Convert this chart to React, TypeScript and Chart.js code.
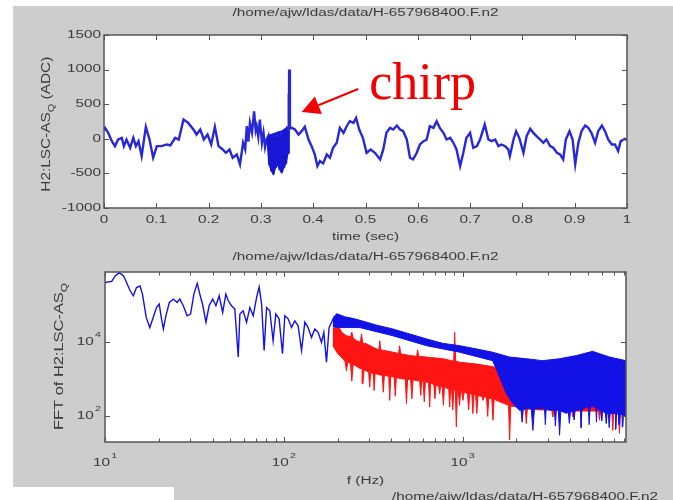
import React, { useEffect, useRef } from 'react';
import { Chart, registerables } from 'chart.js';

Chart.register(...registerables);

const SANS = '"Liberation Sans", Arial, Helvetica, sans-serif';
const SERIF = '"Liberation Serif", "Times New Roman", serif';
const TEXT_COLOR = '#3a3a3a';
const FRAME_COLOR = '#555555';
const FIGURE_GRAY = '#cdcdcd';
const STRETCH = 1.53;
const TRACE_BLUE = 'rgba(22,22,212,0.92)';
const FFT_BLUE = '#1212e6';
const FFT_RED = '#ff1414';
const NOTE_RED = '#f00000';

const plotTitle = '/home/ajw/ldas/data/H-657968400.F.n2';
const timeAxisTitle = 'time (sec)';
const freqAxisTitle = 'f (Hz)';
const adcAxisTitle = [{ text: 'H2:LSC-AS' }, { text: 'Q', sub: true }, { text: ' (ADC)' }];
const fftAxisTitle = [{ text: 'FFT of H2:LSC-AS' }, { text: 'Q', sub: true }];

// ---- top panel: time series ----
const timeSec = [
  0, 0.002, 0.008, 0.015, 0.021, 0.027, 0.034, 0.038, 0.043, 0.050,
  0.056, 0.061, 0.066, 0.072, 0.080, 0.087, 0.094, 0.101, 0.110, 0.120,
  0.127, 0.136, 0.143, 0.152, 0.161, 0.171, 0.177, 0.184, 0.191, 0.198,
  0.205, 0.212, 0.219, 0.227, 0.233, 0.240, 0.246, 0.254, 0.260, 0.266,
  0.270, 0.273, 0.276, 0.279, 0.283, 0.287, 0.290, 0.292, 0.295, 0.298,
  0.302, 0.305, 0.308, 0.311, 0.314, 0.316, 0.318, 0.320, 0.322, 0.324,
  0.326, 0.328, 0.330, 0.332, 0.334, 0.336, 0.338, 0.340, 0.342, 0.344,
  0.346, 0.348, 0.350, 0.352, 0.353, 0.3535, 0.354, 0.3555, 0.359, 0.365,
  0.372, 0.378, 0.384, 0.391, 0.397, 0.403, 0.408, 0.413, 0.419, 0.426,
  0.432, 0.438, 0.445, 0.451, 0.458, 0.464, 0.470, 0.477, 0.482, 0.488,
  0.495, 0.502, 0.510, 0.518, 0.528, 0.534, 0.540, 0.547, 0.553, 0.560,
  0.566, 0.572, 0.579, 0.585, 0.591, 0.598, 0.604, 0.611, 0.617, 0.623,
  0.630, 0.636, 0.642, 0.649, 0.655, 0.662, 0.668, 0.674, 0.681, 0.687,
  0.693, 0.700, 0.706, 0.713, 0.719, 0.728, 0.735, 0.741, 0.748, 0.754,
  0.760, 0.767, 0.773, 0.776, 0.783, 0.788, 0.794, 0.802, 0.808, 0.815,
  0.821, 0.827, 0.834, 0.840, 0.846, 0.853, 0.859, 0.866, 0.872, 0.878,
  0.883, 0.890, 0.896, 0.901, 0.907, 0.913, 0.920, 0.926, 0.932, 0.939,
  0.945, 0.952, 0.958, 0.964, 0.971, 0.977, 0.983, 0.988, 0.996, 1.000,
];
const adcValue = [
  120, 158, 86, -34, -106, -10, 14, -106, -10, -130,
  14, -106, -34, -250, 173, -10, -274, -106, -106, -82,
  -96, 14, -10, 278, 230, 134, 62, 134, -10, 62,
  -82, 173, -106, -154, -202, -154, -274, -226, -370, -58,
  -150, 182, -40, 230, 90, 398, 120, 182, 30, 278,
  -60, 86, -120, -10, 40, -380, 60, -470, 20, -514,
  80, -420, 30, -380, 100, -450, 40, -490, 120, -420,
  150, -360, 180, -200, 650, 0, 1000, 150, 158, 134,
  62, 110, 173, -10, -106, -226, -394, -322, -355, -226,
  -274, -130, -58, 158, 86, 182, 254, 230, 302, 134,
  14, -202, -154, -202, -298, -154, 86, 158, 134, 192,
  134, 110, -10, -274, -298, -202, -82, -34, -10, 182,
  158, 254, 158, 86, -10, 14, -58, -154, -394, -202,
  14, 86, -130, -106, -10, 206, -10, -34, -10, -106,
  -82, -106, -154, -250, -10, 110, 14, -202, 38, 144,
  86, 38, -10, -58, -10, -106, -130, -202, -226, -298,
  -10, 110, -10, -370, -58, 110, 192, 158, 86, -58,
  110, 192, 110, -10, -82, -82, -178, -34, 0, -20,
];
// envelope of the dense oscillation just before the chirp spike
const burstTopSec = [0.312, 0.318, 0.326, 0.334, 0.342, 0.348, 0.352];
const burstTopADC = [0, 60, 80, 100, 120, 150, 100];
const burstBotSec = [0.312, 0.316, 0.320, 0.324, 0.328, 0.332, 0.336, 0.340, 0.344, 0.348, 0.352];
const burstBotADC = [-50, -380, -470, -514, -420, -380, -450, -490, -420, -360, -200];

const timeTicks = [0, 0.1, 0.2, 0.3, 0.4, 0.5, 0.6, 0.7, 0.8, 0.9, 1];
const timeTickLabels = ['0', '0.1', '0.2', '0.3', '0.4', '0.5', '0.6', '0.7', '0.8', '0.9', '1'];
const adcTicks = [-1000, -500, 0, 500, 1000, 1500];
const adcTickLabels = ['-1000', '-500', '0', '500', '1000', '1500'];

// annotation (data coordinates of the top panel)
const chirpText = 'chirp';
const chirpAnchor = { t: 0.507, v: 575 };
const arrowTail = { t: 0.486, v: 720 };
const arrowTip = { t: 0.378, v: 387 };

// ---- bottom panel: spectrum ----
const blueLowHz = [
  10, 10.9, 11.4, 12.0, 12.7, 13.2, 13.8, 14.4, 15.0, 15.7,
  16.2, 17.0, 17.8, 18.6, 19.4, 20.1, 20.7, 21.2, 21.9, 22.9,
  24.1, 25.3, 26.2, 27.4, 28.8, 30.1, 31.4, 32.8, 33.9, 35.1,
  36.7, 38.2, 40.0, 41.7, 43.5, 45.5, 47.4, 48.9, 51.0, 53.2,
  55.6, 56.8, 59.2, 61.9, 64.6, 67.4, 70.4, 72.8, 75.1, 77.6,
  80.1, 83.5, 87.1, 90.2, 94.1, 98.3, 101.3, 105.7, 110.4, 115.2,
  120.2, 125.6, 131.1, 136.7, 142.8, 149.0, 155.5, 162.4, 167.3, 173.2,
  179.1, 188.6, 198.6,
];
const blueLowAmp = [
  4.1e5, 4.4e5, 6.2e5, 7.6e5, 6.2e5, 4.1e5, 2.5e5, 1.8e5, 3.0e5, 3.3e5,
  2.0e5, 4.7e4, 2.5e4, 4.7e4, 8.7e4, 1.08e5, 4.3e4, 2.3e4, 5.2e4, 1.19e5,
  1.47e5, 1.19e5, 1.47e5, 9.7e4, 5.2e4, 5.8e4, 2.0e5, 3.9e5, 2.0e5, 1.08e5,
  3.5e4, 9.7e4, 1.47e5, 9.7e4, 1.8e5, 6.4e4, 2.0e5, 1.32e5, 9.7e4, 7.9e4,
  4.0e3, 5.8e4, 7.1e4, 3.5e4, 8.7e4, 5.2e4, 1.6e5, 3.1e5, 1.08e5, 6.0e3,
  8.7e4, 7.1e4, 1.1e4, 5.8e4, 4.3e4, 4.9e3, 5.2e4, 4.3e4, 2.5e4, 3.8e4,
  2.8e4, 6.0e3, 3.5e4, 2.5e4, 1.36e4, 2.3e4, 1.86e4, 1.0e4, 1.86e4, 2.9e3,
  2.5e4, 4.3e4, 5.8e4,
];
const blueBandTopHz = [188, 198, 219, 249, 284, 331, 406, 506, 629, 773, 963, 1198, 1471, 1831, 2278, 2798, 3482, 4334, 5324, 6626, 8192];
const blueBandTopAmp = [4.6e4, 5.9e4, 4.9e4, 4.3e4, 3.6e4, 2.9e4, 2.3e4, 1.68e4, 1.23e4, 9.4e3, 8.1e3, 6.6e3, 5.4e3, 4.0e3, 3.6e3, 3.2e3, 3.6e3, 4.4e3, 5.7e3, 4.0e3, 3.2e3];
const blueBandBotHz = [
  188, 205, 266, 406, 629, 963, 1471, 1609, 1754, 1910,
  2082, 2120, 2150, 2180, 2269, 2420, 2470, 2520, 2693, 2870,
  2900, 2930, 3062, 3260, 3300, 3340, 3430, 3482, 3540, 3795,
  3900, 3950, 4000, 4150, 4200, 4250, 4317, 4560, 4600, 4640,
  4911, 5040, 5100, 5160, 5346, 5560, 5600, 5640, 5826, 5930,
  6000, 6070, 6280, 6351, 6420, 6520, 6600, 6680, 6914, 7150,
  7200, 7250, 7420, 7500, 7580, 7800, 7864, 7930, 8192,
];
const blueBandBotAmp = [
  2.6e4, 2.5e4, 2.5e4, 1.51e4, 8.1e3, 5.4e3, 3.2e3, 1.15e3, 410, 221,
  146, 150, 70, 150, 162, 160, 42, 160, 162, 160,
  60, 160, 146, 150, 55, 150, 146, 31, 140, 121,
  130, 65, 130, 140, 80, 140, 146, 150, 50, 150,
  179, 180, 60, 180, 185, 170, 70, 170, 146, 140,
  75, 140, 120, 64, 120, 120, 50, 120, 121, 120,
  45, 120, 115, 60, 115, 110, 52, 110, 96,
];
const redTopHz = [
  188, 195, 201, 212, 224, 236, 240, 244, 255, 268,
  272, 276, 290, 330, 340, 344, 348, 408, 438, 444,
  450, 506, 553, 560, 567, 627, 776, 891, 902, 914,
  963, 1193, 1477, 1800, 2500, 4000, 8192,
];
const redTopAmp = [
  2.3e4, 2.6e4, 2.8e4, 1.8e4, 1.51e4, 1.4e4, 1.9e4, 1.3e4, 1.11e4, 1.0e4,
  1.68e4, 9.6e3, 9.1e3, 6.6e3, 6.4e3, 1.1e4, 6.3e3, 5.4e3, 5.0e3, 8.1e3,
  4.9e3, 4.4e3, 4.2e3, 6.3e3, 4.2e3, 4.0e3, 3.6e3, 3.1e3, 1.86e4, 3.1e3,
  2.9e3, 2.6e3, 2.2e3, 1.5e3, 1.2e3, 1.1e3, 1.0e3,
];
const redBotHz = [
  188, 200, 215, 220, 224, 228, 236, 240, 244, 250,
  265, 274, 277, 281, 298, 302, 306, 316, 320, 324,
  330, 350, 355, 360, 365, 386, 391, 396, 414, 420,
  426, 430, 478, 485, 492, 512, 520, 528, 540, 575,
  583, 590, 601, 610, 619, 645, 654, 662, 690, 700,
  710, 735, 744, 752, 769, 780, 791, 800, 836, 846,
  856, 867, 880, 893, 910, 922, 934, 946, 960, 974,
  990, 1004, 1018, 1064, 1080, 1096, 1125, 1141, 1157, 1182,
  1200, 1218, 1280, 1299, 1318, 1360, 1380, 1400, 1455, 1477,
  1500, 1609, 1805, 1831, 1857, 2000, 2240, 2269, 2300, 2700,
  3150, 3195, 3240, 3634, 4080, 4133, 4190, 5000, 5750, 5826,
  5900, 6820, 6914, 7000, 7430, 7534, 7640, 8192,
];
const redBotAmp = [
  8.1e3, 5.0e3, 3.5e3, 3.0e3, 1.7e3, 3.0e3, 2.6e3, 900, 2.5e3, 2.4e3,
  2.0e3, 1.9e3, 762, 1.8e3, 1.6e3, 617, 1.5e3, 1.45e3, 500, 1.45e3,
  1.4e3, 1.3e3, 1.3e3, 450, 1.3e3, 1.2e3, 271, 1.2e3, 1.15e3, 350,
  1.15e3, 1.1e3, 1.0e3, 221, 1.0e3, 980, 300, 970, 950, 900,
  369, 900, 880, 250, 870, 800, 179, 800, 720, 300,
  700, 650, 410, 640, 620, 200, 610, 600, 560, 179,
  550, 530, 150, 520, 500, 52, 490, 470, 200, 460,
  450, 271, 440, 420, 150, 410, 400, 119, 390, 370,
  120, 360, 350, 271, 340, 320, 100, 310, 300, 79,
  290, 250, 200, 23, 190, 180, 160, 64, 160, 150,
  150, 96, 150, 146, 140, 96, 140, 140, 140, 79,
  140, 140, 42, 140, 140, 35, 140, 110,
];
const freqMajorTicks = [10, 100, 1000];
const freqTickExp = ['1', '2', '3'];
const freqMinorTicks = [20, 30, 40, 50, 60, 70, 80, 90, 200, 300, 400, 500, 600, 700, 800, 900, 2000, 3000, 4000, 5000, 6000, 7000, 8000];
const ampTicks = [100, 10000];
const ampTickExp = ['2', '4'];

// ---- helpers ----
function band(topX, topY, botX, botY) {
  const upper = topX.map((x, i) => ({ x, y: topY[i] }));
  const lower = botX.map((x, i) => ({ x, y: botY[i] })).reverse();
  return upper.concat(lower);
}

function stretchedText(ctx, text, x, y, align, size = 10, sx = STRETCH) {
  ctx.save();
  ctx.font = `${size}px ${SANS}`;
  ctx.fillStyle = TEXT_COLOR;
  ctx.textBaseline = 'middle';
  ctx.textAlign = 'left';
  const w = ctx.measureText(text).width * sx;
  const left = align === 'left' ? x : align === 'center' ? x - w / 2 : x - w;
  ctx.translate(left, y);
  ctx.scale(sx, 1);
  ctx.fillText(text, 0, 0);
  ctx.restore();
}

function powerText(ctx, mant, exp, x, y, align) {
  ctx.save();
  ctx.font = `10px ${SANS}`;
  const wb = ctx.measureText(mant).width;
  ctx.font = `7px ${SANS}`;
  const we = ctx.measureText(exp).width;
  const gap = 0.8;
  const total = (wb + gap + we) * STRETCH;
  const left = align === 'center' ? x - total / 2 : x - total;
  ctx.translate(left, y);
  ctx.scale(STRETCH, 1);
  ctx.fillStyle = TEXT_COLOR;
  ctx.textBaseline = 'middle';
  ctx.textAlign = 'left';
  ctx.font = `10px ${SANS}`;
  ctx.fillText(mant, 0, 0);
  ctx.font = `7px ${SANS}`;
  ctx.fillText(exp, wb + gap, -7);
  ctx.restore();
}

function rotatedTitle(ctx, parts, cx, cy, length, size) {
  ctx.save();
  const sub = size * 0.72;
  const widths = parts.map((p) => {
    ctx.font = `${p.sub ? sub : size}px ${SANS}`;
    return ctx.measureText(p.text).width;
  });
  const total = widths.reduce((s, w) => s + w, 0);
  ctx.translate(cx, cy);
  ctx.rotate(-Math.PI / 2);
  ctx.scale(length / total, 1);
  ctx.fillStyle = TEXT_COLOR;
  ctx.textBaseline = 'middle';
  ctx.textAlign = 'left';
  let x = -total / 2;
  parts.forEach((p, i) => {
    ctx.font = `${p.sub ? sub : size}px ${SANS}`;
    ctx.fillText(p.text, x, p.sub ? size * 0.4 : 0);
    x += widths[i];
  });
  ctx.restore();
}

function drawFrame(ctx, a, xs, ys, xMajor, xMinor, yMajor) {
  ctx.save();
  ctx.strokeStyle = FRAME_COLOR;
  ctx.lineWidth = 1;
  ctx.beginPath();
  const big = 5;
  const small = 3.5;
  const xt = (v, len) => {
    const px = Math.round(xs.getPixelForValue(v)) + 0.5;
    ctx.moveTo(px, a.bottom);
    ctx.lineTo(px, a.bottom - len);
    ctx.moveTo(px, a.top);
    ctx.lineTo(px, a.top + len);
  };
  xMajor.forEach((v) => xt(v, big));
  xMinor.forEach((v) => xt(v, small));
  yMajor.forEach((v) => {
    const py = Math.round(ys.getPixelForValue(v)) + 0.5;
    ctx.moveTo(a.left, py);
    ctx.lineTo(a.left + big, py);
    ctx.moveTo(a.right, py);
    ctx.lineTo(a.right - big, py);
  });
  ctx.stroke();
  ctx.lineWidth = 1.5;
  ctx.strokeRect(a.left, a.top, a.right - a.left, a.bottom - a.top);
  ctx.restore();
}

function whiteArea(chart) {
  const { ctx, chartArea: a } = chart;
  ctx.save();
  ctx.fillStyle = '#ffffff';
  ctx.fillRect(a.left, a.top, a.right - a.left, a.bottom - a.top);
  ctx.restore();
}

const timeDecor = {
  id: 'timeDecor',
  beforeDraw: whiteArea,
  afterDraw(chart) {
    const { ctx, chartArea: a, scales } = chart;
    const xs = scales.x;
    const ys = scales.y;
    drawFrame(ctx, a, xs, ys, timeTicks, [], adcTicks);
    timeTicks.forEach((v, i) => stretchedText(ctx, timeTickLabels[i], xs.getPixelForValue(v), a.bottom + 12.5, 'center'));
    adcTicks.forEach((v, i) => stretchedText(ctx, adcTickLabels[i], a.left - 3, ys.getPixelForValue(v), 'right'));
    stretchedText(ctx, plotTitle, (a.left + a.right) / 2, a.top - 22, 'center');
    stretchedText(ctx, timeAxisTitle, (a.left + a.right) / 2, a.bottom + 29, 'center');
    rotatedTitle(ctx, adcAxisTitle, 46, (a.top + a.bottom) / 2 + 2.7, 135, 13);

    // "chirp" annotation with arrow
    const x1 = xs.getPixelForValue(arrowTail.t);
    const y1 = ys.getPixelForValue(arrowTail.v);
    const x2 = xs.getPixelForValue(arrowTip.t);
    const y2 = ys.getPixelForValue(arrowTip.v);
    const ang = Math.atan2(y2 - y1, x2 - x1);
    const headLen = 18;
    const headHalf = 9.5;
    const bx = x2 - headLen * Math.cos(ang);
    const by = y2 - headLen * Math.sin(ang);
    ctx.save();
    ctx.strokeStyle = NOTE_RED;
    ctx.fillStyle = NOTE_RED;
    ctx.lineWidth = 2;
    ctx.beginPath();
    ctx.moveTo(x1, y1);
    ctx.lineTo(bx, by);
    ctx.stroke();
    ctx.beginPath();
    ctx.moveTo(x2, y2);
    ctx.lineTo(bx + headHalf * Math.sin(ang), by - headHalf * Math.cos(ang));
    ctx.lineTo(bx - headHalf * Math.sin(ang), by + headHalf * Math.cos(ang));
    ctx.closePath();
    ctx.fill();
    ctx.font = `52px ${SERIF}`;
    ctx.textBaseline = 'alphabetic';
    ctx.textAlign = 'left';
    ctx.fillText(chirpText, xs.getPixelForValue(chirpAnchor.t), ys.getPixelForValue(chirpAnchor.v));
    ctx.restore();
  },
};

const fftDecor = {
  id: 'fftDecor',
  beforeDraw: whiteArea,
  afterDraw(chart) {
    const { ctx, chartArea: a, scales } = chart;
    const xs = scales.x;
    const ys = scales.y;
    drawFrame(ctx, a, xs, ys, freqMajorTicks, freqMinorTicks, ampTicks);
    freqMajorTicks.forEach((f, i) => powerText(ctx, '10', freqTickExp[i], xs.getPixelForValue(f), a.bottom + 21, 'center'));
    ampTicks.forEach((v, i) => powerText(ctx, '10', ampTickExp[i], a.left - 4, ys.getPixelForValue(v), 'right'));
    stretchedText(ctx, plotTitle, (a.left + a.right) / 2, a.top - 15, 'center');
    stretchedText(ctx, freqAxisTitle, (a.left + a.right) / 2, a.bottom + 39, 'center');
    rotatedTitle(ctx, fftAxisTitle, 59, (a.top + a.bottom) / 2 - 0.5, 147, 13);
    // title of the next (cut-off) panel
    stretchedText(ctx, plotTitle, 525, 247, 'center');
  },
};

const hiddenScale = {
  grid: { display: false },
  border: { display: false },
  ticks: { display: false },
};

export default function App() {
  const topRef = useRef(null);
  const botRef = useRef(null);

  useEffect(() => {
    const top = new Chart(topRef.current, {
      type: 'line',
      data: {
        datasets: [
          {
            label: 'H2:LSC-AS_Q',
            data: timeSec.map((t, i) => ({ x: t, y: adcValue[i] })),
            borderColor: TRACE_BLUE,
            borderWidth: 2.4,
            pointRadius: 0,
            fill: false,
            tension: 0,
            clip: 0,
            order: 0,
          },
          {
            label: 'burst envelope',
            data: band(burstTopSec, burstTopADC, burstBotSec, burstBotADC),
            borderColor: TRACE_BLUE,
            backgroundColor: TRACE_BLUE,
            borderWidth: 1.2,
            pointRadius: 0,
            fill: 'shape',
            tension: 0,
            clip: 0,
            order: 1,
          },
        ],
      },
      options: {
        animation: false,
        responsive: false,
        devicePixelRatio: 1,
        events: [],
        layout: { padding: { left: 0, right: 46, top: 35, bottom: 0 } },
        plugins: { legend: { display: false }, tooltip: { enabled: false }, title: { display: false } },
        scales: {
          x: { type: 'linear', min: 0, max: 1, ...hiddenScale, afterFit: (s) => { s.height = 42; } },
          y: { type: 'linear', min: -1000, max: 1500, ...hiddenScale, afterFit: (s) => { s.width = 104; } },
        },
      },
      plugins: [timeDecor],
    });

    const bot = new Chart(botRef.current, {
      type: 'line',
      data: {
        datasets: [
          {
            label: 'FFT raw (low f)',
            data: blueLowHz.map((f, i) => ({ x: f, y: blueLowAmp[i] })),
            borderColor: FFT_BLUE,
            borderWidth: 1.4,
            pointRadius: 0,
            fill: false,
            tension: 0,
            clip: 0,
            order: 0,
          },
          {
            label: 'FFT raw',
            data: band(blueBandTopHz, blueBandTopAmp, blueBandBotHz, blueBandBotAmp),
            borderColor: FFT_BLUE,
            backgroundColor: FFT_BLUE,
            borderWidth: 1,
            pointRadius: 0,
            fill: 'shape',
            tension: 0,
            clip: 0,
            order: 1,
          },
          {
            label: 'FFT filtered',
            data: band(redTopHz, redTopAmp, redBotHz, redBotAmp),
            borderColor: FFT_RED,
            backgroundColor: FFT_RED,
            borderWidth: 1,
            pointRadius: 0,
            fill: 'shape',
            tension: 0,
            clip: 0,
            order: 2,
          },
        ],
      },
      options: {
        animation: false,
        responsive: false,
        devicePixelRatio: 1,
        events: [],
        layout: { padding: { left: 0, right: 47, top: 22, bottom: 0 } },
        plugins: { legend: { display: false }, tooltip: { enabled: false }, title: { display: false } },
        scales: {
          x: { type: 'logarithmic', min: 10, max: 8192, ...hiddenScale, afterFit: (s) => { s.height = 58; } },
          y: { type: 'logarithmic', min: 20.4, max: 7.9e5, ...hiddenScale, afterFit: (s) => { s.width = 105; } },
        },
      },
      plugins: [fftDecor],
    });

    return () => {
      top.destroy();
      bot.destroy();
    };
  }, []);

  return (
    <div style={{ position: 'absolute', left: 0, top: 0, width: 673, height: 500, background: '#ffffff', overflow: 'hidden' }}>
      <div style={{ position: 'absolute', left: 13, top: 6, width: 660, height: 494, background: FIGURE_GRAY }} />
      <div style={{ position: 'absolute', left: 13, top: 487, width: 161, height: 13, background: '#ffffff' }} />
      <canvas ref={topRef} width={673} height={250} style={{ position: 'absolute', left: 0, top: 0 }} />
      <canvas ref={botRef} width={673} height={250} style={{ position: 'absolute', left: 0, top: 250 }} />
    </div>
  );
}
